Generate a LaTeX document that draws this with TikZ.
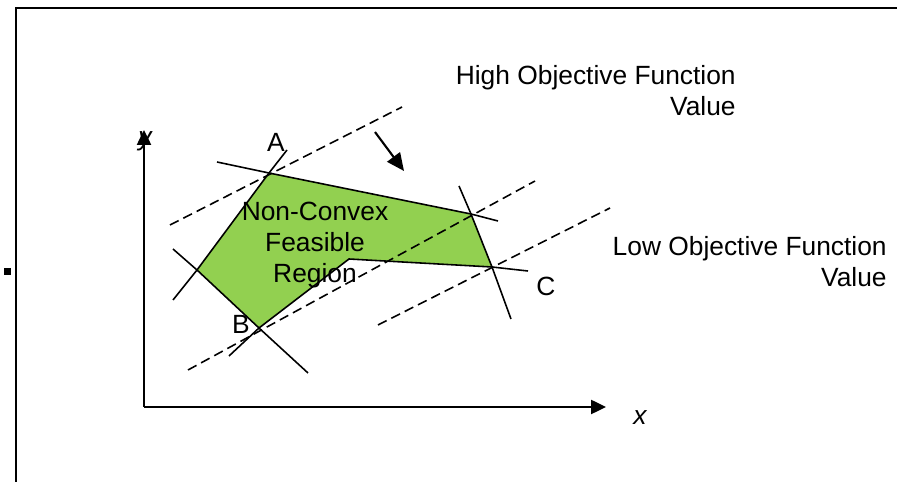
\documentclass[tikz,border=0pt]{standalone}
\usepackage{fontspec}
\setmainfont{Liberation Sans}
\usetikzlibrary{arrows.meta}

\begin{document}
\begin{tikzpicture}[x=0.02cm,y=-0.02cm,
    bound/.style={line width=0.9pt},
    iso/.style={line width=0.9pt,dash pattern=on 5.5pt off 3pt},
    axis/.style={line width=1.2pt,-{Triangle[length=8.5pt,width=8pt]}},
    lbl/.style={font=\fontsize{15}{17.8}\selectfont,inner sep=0pt}]
    \useasboundingbox (0,0) rectangle (897,482);

    % frame
    \draw[line width=1.5pt] (897,8) -- (16,8) -- (16,482);
    \fill (4,268) rectangle (11,275);

    % vertices
    \coordinate (A) at (269,173);
    \coordinate (T) at (471,214);
    \coordinate (C) at (492,267);
    \coordinate (N) at (349,259);
    \coordinate (B) at (259,328);
    \coordinate (L) at (197,270);

    \fill[fill={rgb,255:red,146;green,208;blue,80}] (A) -- (T) -- (C) -- (N) -- (B) -- (L) -- cycle;

    % constraint lines
    \draw[bound] (217,162) -- (A) -- (T) -- (498,221);
    \draw[bound] (287,150) -- (A) -- (L) -- (173,300);
    \draw[bound] (173,249) -- (L) -- (B) -- (308,373);
    \draw[bound] (229,356) -- (B) -- (N) -- (C) -- (528,271);
    \draw[bound] (459,186) -- (T) -- (C) -- (511,319);

    % objective lines
    \draw[iso] (170,225) -- (402,107);
    \draw[iso] (188,370) -- (535,181);
    \draw[iso] (378,325) -- (610,208);
    \draw[line width=1.2pt,-{Triangle[length=10pt,width=9pt]}] (375,132) -- (404,171);

    % axes
    \coordinate (O) at (144,407);
    \draw[axis] (O) -- (144,130);
    \draw[axis] (O) -- (606,407);
    \node[lbl] (ylab) at (145,141) {\itshape y};
    \node[lbl] (xlab) at (640,418) {\itshape x};

    % labels
    \node[lbl] (labA) at (276,142) {A};
    \node[lbl] (labB) at (241,324) {B};
    \node[lbl] (labC) at (546,286) {C};
    \node[lbl,align=center] (region) at (315,245) {Non-Convex\\Feasible\\Region};
    \node[lbl,align=right,anchor=north east] (high) at (736,65) {High Objective Function\\Value};
    \node[lbl,align=right,anchor=north east] (low) at (887,236) {Low Objective Function\\Value};
\end{tikzpicture}
\end{document}
